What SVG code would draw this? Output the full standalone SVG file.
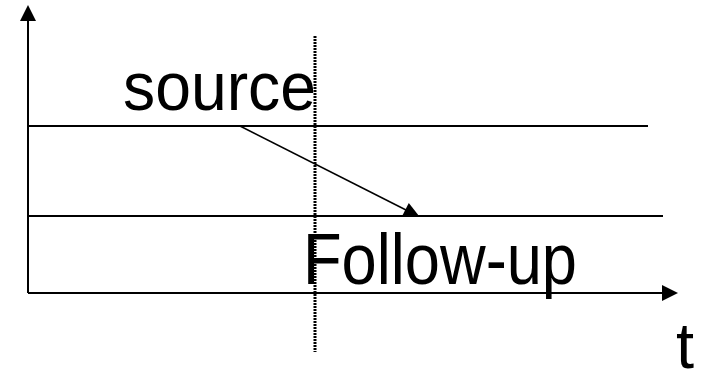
<svg xmlns="http://www.w3.org/2000/svg" width="703" height="372" viewBox="0 0 703 372">
<style>
.ln{stroke:#000;stroke-width:2;fill:none}
.lbl{font-family:"Liberation Sans",Arial,sans-serif;fill:#000}
</style>
<rect width="703" height="372" fill="#fff"/>
<g id="connectors">
<line class="ln" x1="28" y1="293" x2="28" y2="18"/>
<polygon points="28,5 20,21 36,21" fill="#000"/>
<line class="ln" x1="28" y1="293" x2="664" y2="293"/>
<polygon points="678,293 662,285 662,301" fill="#000"/>
<line class="ln" x1="28" y1="126" x2="648" y2="126"/>
<line class="ln" x1="28" y1="216" x2="663" y2="216"/>
<line stroke="#000" stroke-width="1.5" x1="240" y1="126" x2="408" y2="211"/>
<polygon points="419,216 402.4,215.4 408.8,203" fill="#000"/>
<line stroke="#000" stroke-width="3" stroke-dasharray="2 1" x1="315" y1="36" x2="315" y2="352"/>
</g>
<g id="source"><text class="lbl" x="123" y="110" font-size="68" textLength="193" lengthAdjust="spacingAndGlyphs">source</text></g>
<g id="follow-up"><text class="lbl" x="303" y="284" font-size="73" textLength="274" lengthAdjust="spacingAndGlyphs">Follow-up</text></g>
<g id="t"><text class="lbl" x="676" y="368" font-size="65">t</text></g>
</svg>
